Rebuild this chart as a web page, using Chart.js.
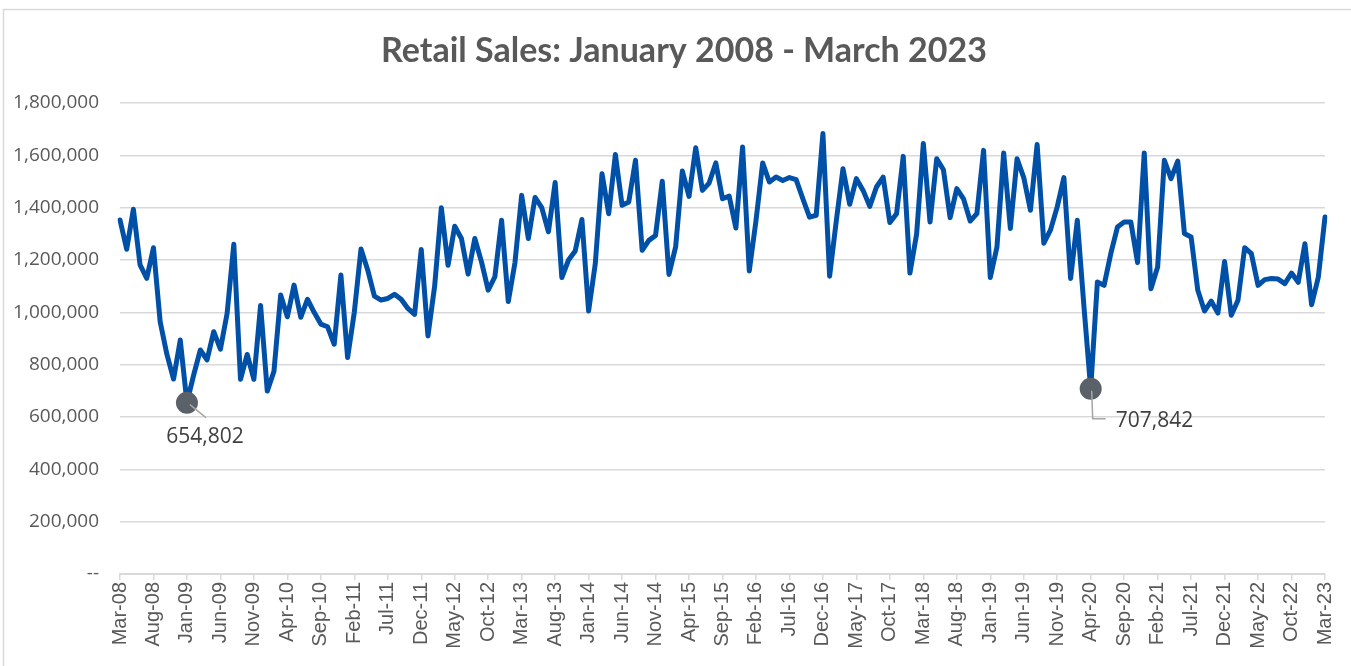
<!DOCTYPE html>
<html>
<head>
<meta charset="utf-8">
<script src="https://cdn.jsdelivr.net/npm/chart.js@4/dist/chart.umd.min.js"></script>
<style>
  html, body { margin: 0; padding: 0; background: #ffffff; }
  canvas { display: block; }
</style>
</head>
<body>
<canvas id="salesChart" width="1351" height="666"></canvas>
<script>
// Mesi da Mar-08 a Mar-23
const monthNames = ["Jan", "Feb", "Mar", "Apr", "May", "Jun", "Jul", "Aug", "Sep", "Oct", "Nov", "Dec"];
const firstMonth = { year: 2008, month: 2 };
const lastMonth = { year: 2023, month: 2 };
const tickEvery = 5;
const chartTitle = "Retail Sales: January 2008 - March 2023";

// Vendite mensili
const sales = [
  1353000, 1241000, 1394000, 1181000, 1130000, 1247000, 964000, 840000, 745000, 894000,
  654802, 760000, 856000, 818000, 926000, 859000, 996000, 1260000, 744000, 839000,
  744000, 1026000, 699000, 775000, 1066000, 983000, 1104000, 981000, 1050000, 1000000,
  955000, 945000, 878000, 1143000, 827000, 1000000, 1242000, 1162000, 1062000, 1047000,
  1053000, 1069000, 1050000, 1015000, 992000, 1240000, 910000, 1100000, 1400000, 1180000,
  1329000, 1282000, 1146000, 1282000, 1193000, 1085000, 1136000, 1352000, 1041000, 1190000,
  1447000, 1282000, 1439000, 1400000, 1308000, 1496000, 1133000, 1200000, 1234000, 1355000,
  1005000, 1186000, 1530000, 1377000, 1603000, 1409000, 1422000, 1581000, 1237000, 1275000,
  1294000, 1501000, 1145000, 1250000, 1540000, 1443000, 1629000, 1466000, 1494000, 1571000,
  1434000, 1444000, 1322000, 1632000, 1158000, 1350000, 1571000, 1498000, 1517000, 1504000,
  1515000, 1507000, 1434000, 1364000, 1371000, 1683000, 1138000, 1350000, 1549000, 1413000,
  1511000, 1466000, 1405000, 1479000, 1517000, 1343000, 1377000, 1596000, 1150000, 1300000,
  1645000, 1345000, 1587000, 1545000, 1362000, 1473000, 1434000, 1349000, 1377000, 1619000,
  1133000, 1250000, 1609000, 1320000, 1587000, 1515000, 1390000, 1641000, 1264000, 1315000,
  1403000, 1515000, 1129000, 1352000, 1020000, 707842, 1116000, 1103000, 1224000, 1326000,
  1345000, 1345000, 1190000, 1609000, 1090000, 1173000, 1581000, 1511000, 1578000, 1301000,
  1288000, 1084000, 1005000, 1043000, 997000, 1194000, 989000, 1046000, 1247000, 1224000,
  1103000, 1125000, 1129000, 1127000, 1110000, 1150000, 1115000, 1262000, 1029000, 1134000,
  1364000,
];

// Asse Y
const yMin = 0;
const yMax = 1800000;
const yStep = 200000;

// Punti evidenziati con etichetta
const highlightMonths = ["Jan-09", "Apr-20"];

const labels = [];
for (let y = firstMonth.year, m = firstMonth.month; y < lastMonth.year || (y === lastMonth.year && m <= lastMonth.month); ) {
  labels.push(monthNames[m] + "-" + String(y % 100).padStart(2, "0"));
  m++;
  if (m > 11) { m = 0; y++; }
}
const highlightIdx = highlightMonths.map((l) => labels.indexOf(l));

// stile etichette (offset rispetto al punto)
const calloutStyle = {
  "Jan-09": { kind: "diag", dx: 18, dy: 34 },
  "Apr-20": { kind: "elbow", dx: 25, dy: 32 },
};

const fmt = (v) => Math.round(v).toLocaleString("en-US");

// sfondo, cornice e titolo
const frame = {
  id: "frame",
  beforeDraw(chart) {
    const ctx = chart.ctx;
    ctx.save();
    ctx.fillStyle = "#ffffff";
    ctx.fillRect(0, 0, chart.width, chart.height);
    ctx.strokeStyle = "#d9d9d9";
    ctx.lineWidth = 1.5;
    ctx.strokeRect(3.5, 9.5, chart.width + 20, chart.height + 20);
    ctx.fillStyle = "#595959";
    ctx.font = "bold 34px Lato";
    ctx.textAlign = "center";
    ctx.textBaseline = "middle";
    ctx.fillText(chartTitle, 684, 51);
    ctx.restore();
  },
};

const callouts = {
  id: "callouts",
  afterDatasetsDraw(chart) {
    const ctx = chart.ctx;
    const meta = chart.getDatasetMeta(0);
    ctx.save();
    highlightIdx.forEach((idx, k) => {
      const pt = meta.data[idx];
      const st = calloutStyle[highlightMonths[k]];
      ctx.strokeStyle = "#a6a6a6";
      ctx.lineWidth = 1.5;
      ctx.beginPath();
      ctx.font = "21px 'Open Sans'";
      ctx.fillStyle = "#404040";
      ctx.textBaseline = "middle";
      if (st.kind === "diag") {
        ctx.moveTo(pt.x + 3, pt.y + 2);
        ctx.lineTo(pt.x + 19, pt.y + 15);
        ctx.stroke();
        ctx.textAlign = "center";
        ctx.fillText(fmt(sales[idx]), pt.x + st.dx, pt.y + st.dy);
      } else {
        ctx.moveTo(pt.x + 1, pt.y + 2);
        ctx.lineTo(pt.x + 2, pt.y + 30);
        ctx.lineTo(pt.x + 15, pt.y + 30);
        ctx.stroke();
        ctx.textAlign = "left";
        ctx.fillText(fmt(sales[idx]), pt.x + st.dx, pt.y + st.dy);
      }
    });
    ctx.restore();
  },
};

new Chart(document.getElementById("salesChart"), {
  type: "line",
  data: {
    labels: labels,
    datasets: [
      {
        label: "Retail Sales",
        data: sales,
        borderColor: "#0050a8",
        borderWidth: 5,
        borderJoinStyle: "round",
        borderCapStyle: "round",
        tension: 0,
        fill: false,
        pointRadius: (c) => (highlightIdx.includes(c.dataIndex) ? 11 : 0),
        pointHoverRadius: (c) => (highlightIdx.includes(c.dataIndex) ? 11 : 0),
        pointBackgroundColor: "#5a6169",
        pointBorderWidth: 0,
      },
    ],
  },
  options: {
    responsive: false,
    animation: false,
    devicePixelRatio: 1,
    events: [],
    layout: { padding: { left: 0, right: 24, top: 103, bottom: 0 } },
    plugins: {
      legend: { display: false },
      tooltip: { enabled: false },
      title: { display: false },
    },
    scales: {
      x: {
        type: "category",
        offset: false,
        grid: {
          drawOnChartArea: false,
          drawTicks: true,
          tickLength: 6,
          color: "#d9d9d9",
          lineWidth: 1.5,
        },
        border: { display: true, color: "#d9d9d9", width: 2 },
        ticks: {
          autoSkip: false,
          minRotation: 90,
          maxRotation: 90,
          padding: 2,
          color: "#595959",
          font: { family: "Liberation Sans", size: 20 },
          callback: (value, index) => (index % tickEvery === 0 ? labels[index] : null),
        },
        afterFit: (scale) => { scale.height = 92; },
      },
      y: {
        min: yMin,
        max: yMax,
        grid: { color: "#d9d9d9", lineWidth: 1.5, drawTicks: false },
        border: { display: false },
        ticks: {
          stepSize: yStep,
          padding: 21,
          color: "#595959",
          font: { family: "Open Sans", size: 19 },
          callback: (v) => (v === 0 ? "--" : fmt(v)),
        },
        afterFit: (scale) => { scale.width = 120; },
      },
    },
  },
  plugins: [frame, callouts],
});
</script>
</body>
</html>
